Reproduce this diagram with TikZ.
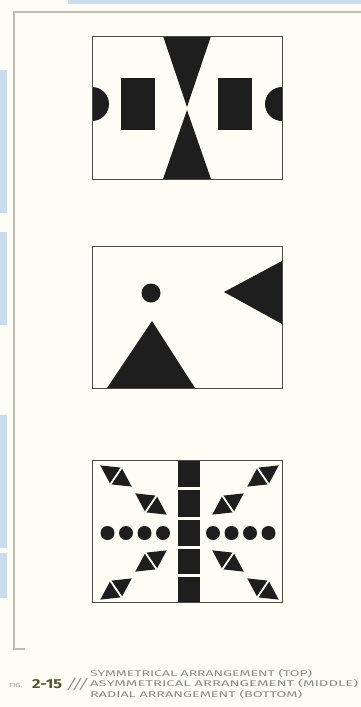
\documentclass[tikz,border=0pt]{standalone}
\usepackage{fontspec}
\setmainfont{Fira Sans}
\newfontfamily\capfont{Fira Sans}
\definecolor{bg}{HTML}{FDFDF6}
\definecolor{inkblack}{HTML}{1E1E1E}
\definecolor{boxgray}{HTML}{4A4A4A}
\definecolor{framegray}{HTML}{BDBDB2}
\definecolor{pageblue}{HTML}{C9DBEE}
\definecolor{captext}{HTML}{8A8A8A}
\definecolor{figcol}{HTML}{55552E}
\begin{document}
\begin{tikzpicture}[x=1pt,y=-1pt,
  boxframe/.style={draw=boxgray,line width=1.2pt,fill=none},
  capline/.style={anchor=base west,inner sep=0pt,text=captext},
  dmd/.pic={\fill[inkblack] (-19,0) -- (0,10) -- (19,0) -- (0,-10) -- cycle;
            \draw[bg,line width=1.8pt] (0,-12) -- (0,12);}]
\useasboundingbox (0,0) rectangle (361,707);
\fill[bg] (0,0) rectangle (361,707);
% page edges
\fill[pageblue] (68,0) rectangle (361,4);
\fill[pageblue] (0,70) rectangle (7,213);
\fill[pageblue] (0,232) rectangle (7,325);
\fill[pageblue] (0,415) rectangle (7,548);
\fill[pageblue] (0,553) rectangle (7,598);
% frame
\draw[framegray,line width=1.5pt] (361,12) -- (14,12) -- (14,649) -- (25,649);

% ---- top: symmetrical
\begin{scope}
  \clip (92,36) rectangle (282,179);
  \fill[inkblack] (92,104) circle (17);
  \fill[inkblack] (282,104) circle (17);
\end{scope}
\fill[inkblack] (163,36) -- (211,36) -- (187,107) -- cycle;
\fill[inkblack] (163,179) -- (211,179) -- (187,110) -- cycle;
\fill[inkblack] (121,78) rectangle (155,130);
\fill[inkblack] (218,78) rectangle (252,130);
\node[boxframe,anchor=north west,minimum width=190pt,minimum height=143pt,inner sep=0pt] (topbox) at (92,36) {};

% ---- middle: asymmetrical
\fill[inkblack] (151,293) circle (9.5);
\fill[inkblack] (107,388) -- (195,388) -- (152,321) -- cycle;
\fill[inkblack] (282,261) -- (282,324) -- (224,292) -- cycle;
\node[boxframe,anchor=north west,minimum width=190pt,minimum height=142pt,inner sep=0pt] (midbox) at (92,246) {};

% ---- bottom: radial
\foreach \ya/\yb in {460/487,490/517,520/546,549/574,577/602}
  \fill[inkblack] (178,\ya) rectangle (200,\yb);
\foreach \cx in {107.5,126,144.5,163,213,231.5,250,268.5}
  \fill[inkblack] (\cx,533) circle (7);
\pic[rotate=-34] at (116,476) {dmd};
\pic[rotate=-34] at (151,504) {dmd};
\pic[rotate=34] at (263,476) {dmd};
\pic[rotate=34] at (228,504) {dmd};
\pic[rotate=34] at (116,589) {dmd};
\pic[rotate=34] at (151,561) {dmd};
\pic[rotate=-34] at (263,589) {dmd};
\pic[rotate=-34] at (228,561) {dmd};
\node[boxframe,anchor=north west,minimum width=190pt,minimum height=142pt,inner sep=0pt] (botbox) at (92,460) {};

% ---- caption
\node[capline] (fig) at (9,687) {\resizebox{13pt}{4pt}{\capfont FIG.}};
\node[anchor=base west,inner sep=0pt,text=figcol] (num) at (32,688) {\resizebox{30pt}{9pt}{\capfont\bfseries 2-15}};
\foreach \i in {0,1,2}
  \draw[captext,line width=1pt] (68+6*\i,690) -- (75+6*\i,678);
\node[capline] (cap1) at (90,676) {\resizebox{222pt}{7pt}{\capfont SYMMETRICAL ARRANGEMENT (TOP)}};
\node[capline] (cap2) at (90,686.5) {\resizebox{268pt}{7pt}{\capfont ASYMMETRICAL ARRANGEMENT (MIDDLE)}};
\node[capline] (cap3) at (90,697) {\resizebox{212pt}{7pt}{\capfont RADIAL ARRANGEMENT (BOTTOM)}};
\end{tikzpicture}
\end{document}
